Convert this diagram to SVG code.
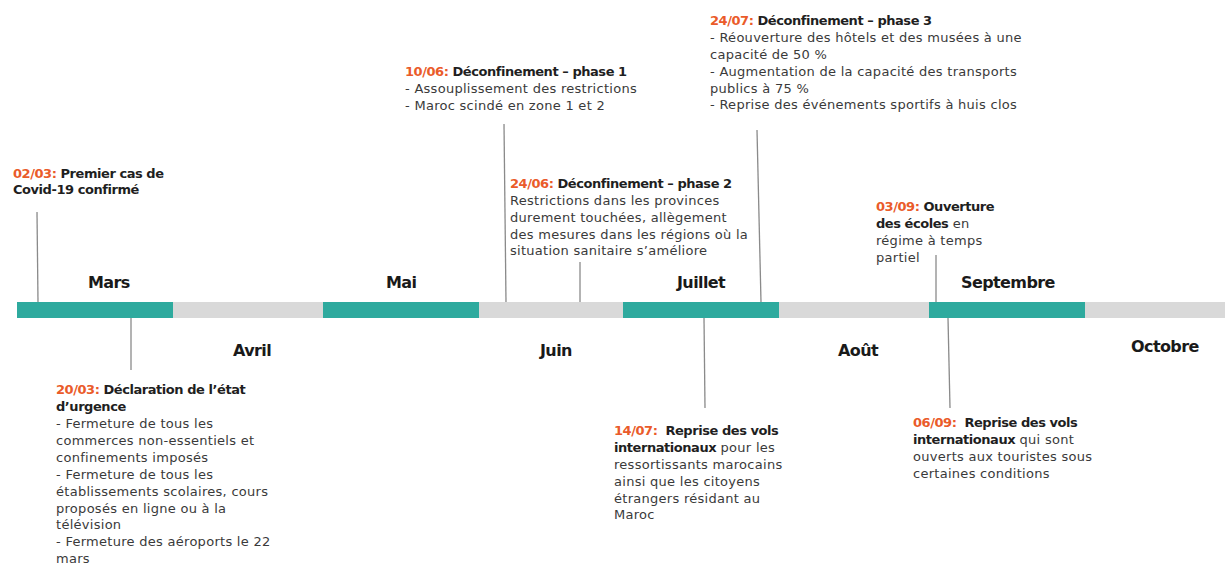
<svg xmlns="http://www.w3.org/2000/svg" width="1225" height="564" viewBox="0 0 1225 564">
<style>
text{font-family:"DejaVu Sans","Liberation Sans",sans-serif;}
.b{font-size:13px;fill:#3a3a3a;letter-spacing:0.28px;}
.h{font-weight:bold;fill:#1f1f1f;letter-spacing:-0.45px;}
.d{font-weight:bold;fill:#ea5b2a;letter-spacing:-0.45px;}
.m{font-size:16px;font-weight:bold;fill:#1a1a1a;letter-spacing:-0.6px;}
.t{fill:#2eaa9e;}
.g{fill:#d9d9d9;}
.c{stroke:#8a8a8a;stroke-width:1.3;fill:none;}
</style>
<rect width="1225" height="564" fill="#ffffff"/>
<g id="bar">
<rect class="t" x="17" y="302" width="156" height="16"/>
<rect class="g" x="173" y="302" width="150" height="16"/>
<rect class="t" x="323" y="302" width="156" height="16"/>
<rect class="g" x="479" y="302" width="144" height="16"/>
<rect class="t" x="623" y="302" width="156" height="16"/>
<rect class="g" x="779" y="302" width="150" height="16"/>
<rect class="t" x="929" y="302" width="156" height="16"/>
<rect class="g" x="1085" y="302" width="140" height="16"/>
</g>
<g id="months">
<text class="m" x="88" y="288">Mars</text>
<text class="m" x="233" y="356">Avril</text>
<text class="m" x="386" y="288">Mai</text>
<text class="m" x="540" y="356">Juin</text>
<text class="m" x="677" y="288">Juillet</text>
<text class="m" x="838" y="356">Août</text>
<text class="m" x="961" y="288">Septembre</text>
<text class="m" x="1131" y="352">Octobre</text>
</g>
<g id="connectors">
<line class="c" x1="37" y1="212" x2="38" y2="302"/>
<line class="c" x1="131" y1="318" x2="131" y2="370"/>
<line class="c" x1="504" y1="124" x2="506" y2="302"/>
<line class="c" x1="580" y1="262" x2="580" y2="302"/>
<line class="c" x1="757" y1="130" x2="761" y2="302"/>
<line class="c" x1="704" y1="318" x2="705" y2="408"/>
<line class="c" x1="936" y1="255" x2="936" y2="302"/>
<line class="c" x1="948" y1="318" x2="950" y2="408"/>
</g>
<g id="e0203" class="b">
<text x="13" y="178"><tspan class="d">02/03:</tspan><tspan class="h"> Premier cas de</tspan></text>
<text x="13" y="194" class="h">Covid-19 confirmé</text>
</g>
<g id="e2003" class="b">
<text x="56" y="394"><tspan class="d">20/03:</tspan><tspan class="h"> Déclaration de l’état</tspan></text>
<text x="56" y="411" class="h">d’urgence</text>
<text x="56" y="428">- Fermeture de tous les</text>
<text x="56" y="445">commerces non-essentiels et</text>
<text x="56" y="462">confinements imposés</text>
<text x="56" y="479">- Fermeture de tous les</text>
<text x="56" y="496">établissements scolaires, cours</text>
<text x="56" y="513">proposés en ligne ou à la</text>
<text x="56" y="529">télévision</text>
<text x="56" y="546">- Fermeture des aéroports le 22</text>
<text x="56" y="563">mars</text>
</g>
<g id="e1006" class="b">
<text x="405" y="76"><tspan class="d">10/06:</tspan><tspan class="h"> Déconfinement – phase 1</tspan></text>
<text x="405" y="93">- Assouplissement des restrictions</text>
<text x="405" y="110">- Maroc scindé en zone 1 et 2</text>
</g>
<g id="e2406" class="b">
<text x="510" y="188"><tspan class="d">24/06:</tspan><tspan class="h"> Déconfinement – phase 2</tspan></text>
<text x="510" y="205">Restrictions dans les provinces</text>
<text x="510" y="222">durement touchées, allègement</text>
<text x="510" y="239">des mesures dans les régions où la</text>
<text x="510" y="255">situation sanitaire s’améliore</text>
</g>
<g id="e2407" class="b">
<text x="710" y="25"><tspan class="d">24/07:</tspan><tspan class="h"> Déconfinement – phase 3</tspan></text>
<text x="710" y="42">- Réouverture des hôtels et des musées à une</text>
<text x="710" y="59">capacité de 50 %</text>
<text x="710" y="76">- Augmentation de la capacité des transports</text>
<text x="710" y="93">publics à 75 %</text>
<text x="710" y="109">- Reprise des événements sportifs à huis clos</text>
</g>
<g id="e1407" class="b">
<text x="614" y="435"><tspan class="d">14/07:</tspan><tspan class="h" dx="8">Reprise des vols</tspan></text>
<text x="614" y="452"><tspan class="h">internationaux</tspan> pour les</text>
<text x="614" y="469">ressortissants marocains</text>
<text x="614" y="486">ainsi que les citoyens</text>
<text x="614" y="503">étrangers résidant au</text>
<text x="614" y="519">Maroc</text>
</g>
<g id="e0309" class="b">
<text x="876" y="211"><tspan class="d">03/09:</tspan><tspan class="h"> Ouverture</tspan></text>
<text x="876" y="228"><tspan class="h">des écoles</tspan> en</text>
<text x="876" y="245">régime à temps</text>
<text x="876" y="262">partiel</text>
</g>
<g id="e0609" class="b">
<text x="913" y="427"><tspan class="d">06/09:</tspan><tspan class="h" dx="8">Reprise des vols</tspan></text>
<text x="913" y="444"><tspan class="h">internationaux</tspan> qui sont</text>
<text x="913" y="461">ouverts aux touristes sous</text>
<text x="913" y="478">certaines conditions</text>
</g>
</svg>
